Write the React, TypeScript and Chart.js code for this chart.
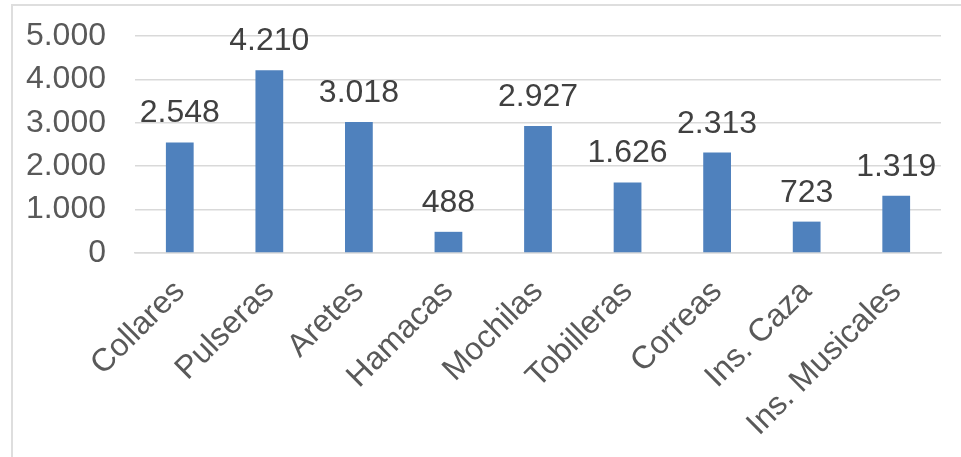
import React, { useEffect, useRef } from "react";
import { Chart, registerables } from "chart.js";

Chart.register(...registerables);

const categories = ["Collares", "Pulseras", "Aretes", "Hamacas", "Mochilas", "Tobilleras", "Correas", "Ins. Caza", "Ins. Musicales"];
const values = [2548, 4210, 3018, 488, 2927, 1626, 2313, 723, 1319];
const yMin = 0;
const yMax = 5000;
const yStep = 1000;

const FONT = '"Liberation Sans", Arial, sans-serif';
const FS = 32;
const fmt = (v: number) => String(Math.round(v)).replace(/\B(?=(\d{3})+(?!\d))/g, ".");

const dataLabelPlugin = {
  id: "dataLabels",
  afterDatasetsDraw(chart: any) {
    const ctx = chart.ctx;
    ctx.save();
    ctx.font = `${FS}px ${FONT}`;
    ctx.fillStyle = "#404040";
    ctx.textAlign = "center";
    ctx.textBaseline = "alphabetic";
    const meta = chart.getDatasetMeta(0);
    meta.data.forEach((bar: any, i: number) => {
      ctx.fillText(fmt(values[i]), bar.x, bar.y - 20);
    });
    ctx.restore();
  },
};

export default function App() {
  const ref = useRef<HTMLCanvasElement | null>(null);
  useEffect(() => {
    if (!ref.current) return;
    const chart = new Chart(ref.current, {
      type: "bar",
      data: {
        labels: categories,
        datasets: [
          {
            data: values,
            backgroundColor: "#4f81bd",
            borderWidth: 0,
            categoryPercentage: 1,
            barPercentage: 0.31,
          },
        ],
      },
      options: {
        responsive: false,
        animation: false,
        layout: { padding: { left: 0, right: 20, top: 36, bottom: 0 } },
        plugins: { legend: { display: false }, tooltip: { enabled: false } },
        scales: {
          x: {
            grid: { display: false, drawTicks: false },
            border: { display: true, color: "#d9d9d9", width: 1.5 },
            ticks: {
              color: "#595959",
              font: { family: FONT, size: FS },
              minRotation: 45,
              maxRotation: 45,
              padding: 20,
              autoSkip: false,
            },
            afterFit: (s: any) => {
              s.height = 204;
              s.paddingTop = 0;
              s.paddingBottom = 0;
              s.paddingLeft = 0;
              s.paddingRight = 0;
            },
          },
          y: {
            min: yMin,
            max: yMax,
            grid: { color: "#d9d9d9", lineWidth: 1.5, drawTicks: false },
            border: { display: false },
            ticks: {
              stepSize: yStep,
              autoSkip: false,
              color: "#595959",
              font: { family: FONT, size: FS },
              padding: 29,
              callback: (v: any) => fmt(Number(v)),
            },
            afterFit: (s: any) => {
              s.width = 135;
              s.paddingTop = 0;
              s.paddingBottom = 0;
            },
          },
        },
      },
      plugins: [dataLabelPlugin],
    });
    return () => chart.destroy();
  }, []);

  return (
    <div style={{ position: "fixed", left: 0, top: 0, width: 961, height: 457, overflow: "hidden", background: "#fff" }}>
      <div
        style={{
          position: "absolute",
          left: 11,
          top: 4,
          width: 2000,
          height: 2000,
          border: "2px solid #dedede",
        }}
      />
      <canvas ref={ref} width={961} height={457} style={{ position: "absolute", left: 0, top: 0 }} />
    </div>
  );
}
